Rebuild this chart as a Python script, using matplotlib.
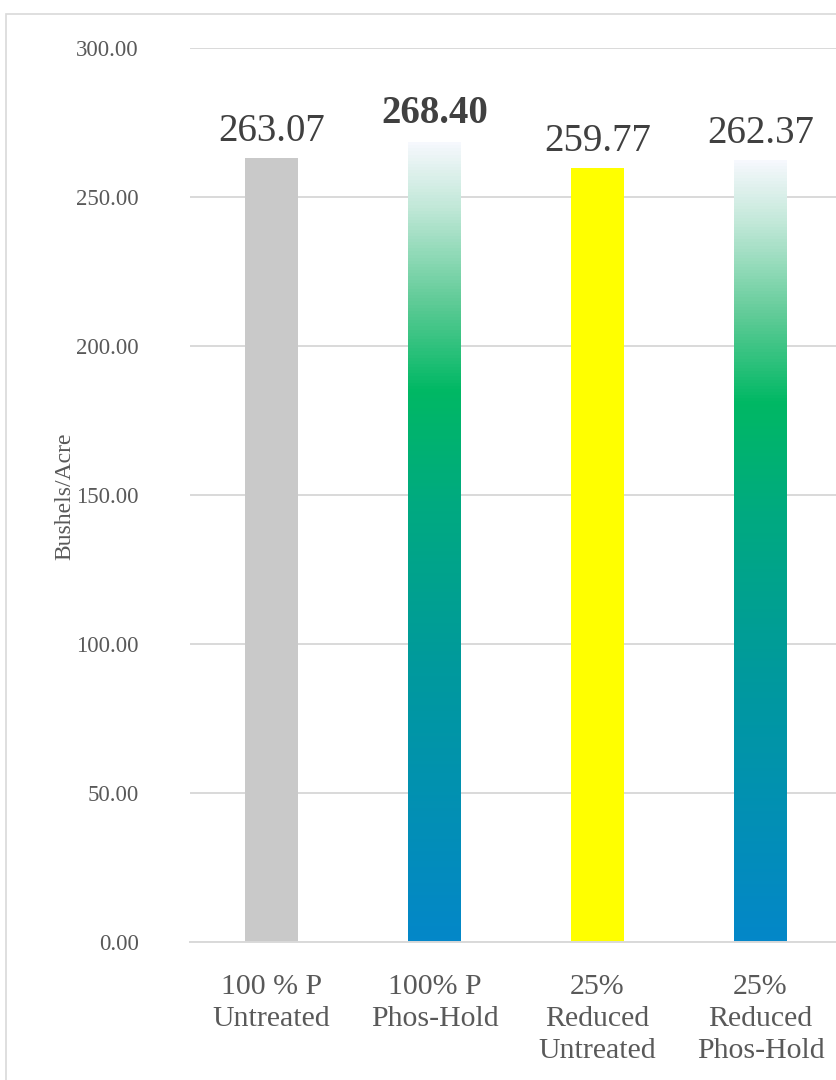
import matplotlib
matplotlib.use("Agg")
import matplotlib.pyplot as plt
import numpy as np
from matplotlib.colors import LinearSegmentedColormap
from matplotlib.patches import Rectangle

categories = ["100 % P\nUntreated", "100% P\nPhos-Hold", "25%\nReduced\nUntreated", "25%\nReduced\nPhos-Hold"]
values = [263.07, 268.40, 259.77, 262.37]
labels = ["263.07", "268.40", "259.77", "262.37"]
bold_flags = [False, True, False, False]
fills = ["#C9C9C9", "gradient", "#FFFF00", "gradient"]
yticks = [0, 50, 100, 150, 200, 250, 300]

plt.rcParams['font.family'] = ['Liberation Serif', 'DejaVu Serif']

W, H = 837, 1080
fig = plt.figure(figsize=(W/100, H/100), dpi=100)
fig.patches.append(Rectangle((6/W, -0.1), 1.2, 1.1 - 14/H, transform=fig.transFigure,
                             fill=False, edgecolor="#D9D9D9", linewidth=1.2))

ax = fig.add_axes([190/W, 1-942/H, 652/W, (942-48)/H])

cmap = LinearSegmentedColormap.from_list("ph", [
    (0.0, "#0487C9"),
    (0.35, "#009A9C"),
    (0.55, "#00AA80"),
    (0.69, "#00B864"),
    (0.80, "#5ECB96"),
    (0.92, "#C1E8D8"),
    (1.0, "#F6F8FD"),
])

x = np.arange(len(values))
width = 0.32
bars = ax.bar(x, values, width=width, zorder=2)
grad = np.linspace(0, 1, 256).reshape(-1, 1)
for b, f in zip(bars, fills):
    if f == "gradient":
        b.set_facecolor("none")
        b.set_edgecolor("none")
        x0, y0 = b.get_x(), b.get_y()
        ax.imshow(grad, cmap=cmap, origin="lower", aspect="auto",
                  extent=(x0, x0 + b.get_width(), y0, y0 + b.get_height()), zorder=2)
    else:
        b.set_facecolor(f)
        b.set_edgecolor("none")

for b, lab, bf in zip(bars, labels, bold_flags):
    ax.annotate(lab, (b.get_x() + b.get_width()/2, b.get_height()),
                xytext=(0, 7 if bf else 6), textcoords="offset points", ha="center", va="bottom",
                fontsize=28, color="#404040", fontweight="bold" if bf else "normal")

ax.set_xlim(-0.5, len(values) - 0.5)
ax.set_ylim(0, 300)
ax.set_yticks(yticks)
ax.set_yticklabels([f"{v:.2f}" for v in yticks])
ax.set_xticks(x)
ax.set_xticklabels(categories, linespacing=1.3)
ax.tick_params(axis="y", length=0, pad=37, labelsize=16.5, labelcolor="#595959")
ax.tick_params(axis="x", length=0, pad=23, labelsize=21.5, labelcolor="#595959")
for lab in ax.get_xticklabels():
    lab.set_va("top")
ax.grid(axis="y", color="#D9D9D9", linewidth=1.4, zorder=0)
ax.set_axisbelow(True)
for s in ["top", "right", "left"]:
    ax.spines[s].set_visible(False)
ax.spines["bottom"].set_color("#D9D9D9")
ax.spines["bottom"].set_linewidth(1.4)

fig.text(65/W, 1-496/H, "Bushels/Acre", rotation=90, ha="center", va="center",
         fontsize=17, color="#595959")

fig.savefig("out.png", dpi=100)
